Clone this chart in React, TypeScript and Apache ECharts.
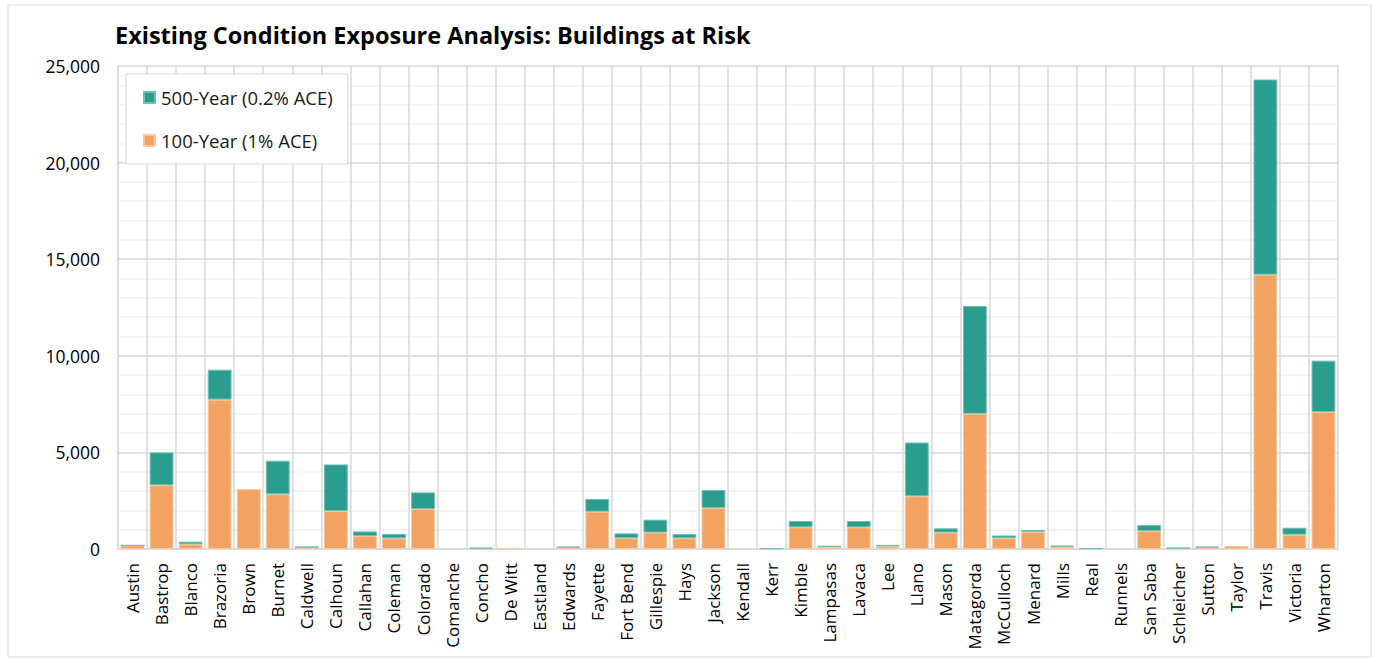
import React, { useEffect, useRef } from "react";
import * as echarts from "echarts";

const counties = [
  "Austin", "Bastrop", "Blanco", "Brazoria", "Brown", "Burnet", "Caldwell", "Calhoun",
  "Callahan", "Coleman", "Colorado", "Comanche", "Concho", "De Witt", "Eastland", "Edwards",
  "Fayette", "Fort Bend", "Gillespie", "Hays", "Jackson", "Kendall", "Kerr", "Kimble",
  "Lampasas", "Lavaca", "Lee", "Llano", "Mason", "Matagorda", "McCulloch", "Menard",
  "Mills", "Real", "Runnels", "San Saba", "Schleicher", "Sutton", "Taylor", "Travis",
  "Victoria", "Wharton",
];

const year100 = [
  180, 3300, 240, 7730, 3100, 2830, 90, 1970,
  670, 550, 2070, 0, 20, 40, 0, 80,
  1930, 560, 850, 560, 2120, 0, 0, 1120,
  100, 1120, 130, 2730, 850, 7000, 560, 880,
  120, 0, 0, 930, 30, 80, 150, 14200,
  740, 7090,
];

const year500 = [
  10, 1700, 140, 1550, 0, 1740, 20, 2410,
  240, 230, 860, 0, 50, 0, 0, 30,
  660, 250, 670, 210, 930, 0, 40, 330,
  70, 330, 80, 2780, 220, 5580, 140, 100,
  60, 40, 0, 310, 40, 30, 0, 10100,
  360, 2660,
];

const yTicks = { min: 0, max: 25000, interval: 5000 };

const NAME_500 = "500-Year (0.2% ACE)";
const NAME_100 = "100-Year (1% ACE)";

const nz = (arr: number[]) => arr.map((v) => (v === 0 ? "-" : v));

export default function App() {
  const ref = useRef<HTMLDivElement>(null);

  useEffect(() => {
    document.body.style.margin = "0";
    const chart = echarts.init(ref.current!, undefined, { renderer: "svg" });
    const font = "'Open Sans', sans-serif";
    chart.setOption({
      animation: false,
      backgroundColor: "#ffffff",
      textStyle: { fontFamily: font },
      title: {
        text: "Existing Condition Exposure Analysis: Buildings at Risk",
        left: 110,
        top: 18,
        textStyle: { fontFamily: font, fontSize: 23.5, fontWeight: "bold", color: "#000" },
      },
      graphic: [
        {
          type: "rect",
          shape: { x: 8, y: 5, width: 1363, height: 652 },
          style: { fill: "none", stroke: "#d9d9d9", lineWidth: 1 },
          silent: true,
          z: -10,
        },
      ],
      legend: {
        orient: "vertical",
        left: 126,
        top: 74,
        data: [NAME_500, NAME_100],
        backgroundColor: "#ffffff",
        borderColor: "#d9d9d9",
        borderWidth: 1,
        padding: [14, 15, 14, 17],
        itemGap: 24,
        itemWidth: 11,
        itemHeight: 11,
        icon: "rect",
        textStyle: { fontFamily: font, fontSize: 18.5, color: "#1a1a1a", padding: [0, 0, 0, 1] },
        z: 10,
      },
      grid: { left: 118, right: 36, top: 66, bottom: 112, containLabel: false },
      xAxis: {
        type: "category",
        data: counties,
        axisLine: { lineStyle: { color: "#d9d9d9", width: 1.5 } },
        axisTick: { show: false },
        splitLine: { show: true, interval: 0, lineStyle: { color: "#d9d9d9", width: 1.5 } },
        axisLabel: {
          interval: 0,
          rotate: 90,
          fontSize: 17,
          color: "#000",
          margin: 14,
          fontFamily: font,
        },
      },
      yAxis: {
        type: "value",
        min: yTicks.min,
        max: yTicks.max,
        interval: yTicks.interval,
        axisLine: { show: true, lineStyle: { color: "#d9d9d9", width: 1.5 } },
        axisTick: { show: false },
        splitLine: { lineStyle: { color: "#d9d9d9", width: 1.5 } },
        minorTick: { show: false, splitNumber: 5 },
        minorSplitLine: { show: true, lineStyle: { color: "#f0f0f0", width: 1.5 } },
        axisLabel: {
          fontSize: 17.5,
          color: "#000",
          margin: 18,
          fontFamily: font,
          formatter: (v: number) => v.toLocaleString("en-US"),
        },
      },
      series: [
        {
          name: NAME_100,
          type: "bar",
          stack: "total",
          data: nz(year100),
          barCategoryGap: "18%",
          itemStyle: { color: "#F4A261", borderColor: "#f8c79c", borderWidth: 1 },
        },
        {
          name: NAME_500,
          type: "bar",
          stack: "total",
          data: nz(year500),
          barCategoryGap: "18%",
          itemStyle: { color: "#2A9D8F", borderColor: "#6fbfb5", borderWidth: 1 },
        },
      ],
    });
    return () => chart.dispose();
  }, []);

  return <div ref={ref} style={{ width: 1374, height: 661 }} />;
}
